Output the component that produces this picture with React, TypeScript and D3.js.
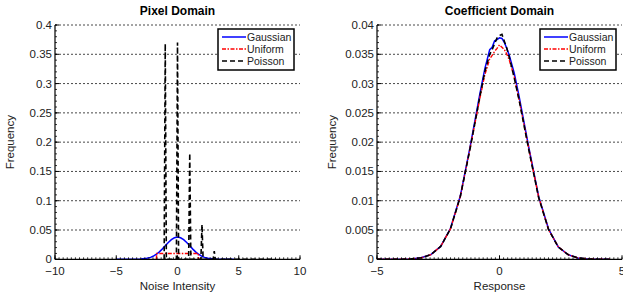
import React from "react";
import * as d3 from "d3";

// ---------- data ----------
const leftTitle = "Pixel Domain";
const rightTitle = "Coefficient Domain";
const seriesNames = ["Gaussian", "Uniform", "Poisson"];

const leftXTicks = [-10, -5, 0, 5, 10];
const leftYTicks = [0, 0.05, 0.1, 0.15, 0.2, 0.25, 0.3, 0.35, 0.4];
const rightXTicks = [-5, 0, 5];
const rightYTicks = [0, 0.005, 0.01, 0.015, 0.02, 0.025, 0.03, 0.035, 0.04];

// Pixel domain, Gaussian noise histogram
const pgX = [-5, -4, -3.5, -3, -2.5, -2.2, -2, -1.75, -1.5, -1.25, -1, -0.75, -0.5, -0.25, 0, 0.25, 0.5, 0.75, 1, 1.25, 1.5, 1.75, 2, 2.2, 2.5, 3, 3.5, 4, 4.6];
const pgY = [0, 0, 0.0001, 0.0004, 0.0017, 0.0033, 0.0051, 0.0082, 0.0123, 0.0174, 0.023, 0.0287, 0.0335, 0.0368, 0.038, 0.0368, 0.0335, 0.0287, 0.023, 0.0174, 0.0123, 0.0082, 0.0051, 0.0033, 0.0017, 0.0004, 0.0001, 0, 0];
// Pixel domain, Uniform noise histogram
const puX = [-1.72, -1.7, 1.7, 1.72];
const puY = [0, 0.01, 0.01, 0];
// Pixel domain, Poisson noise histogram (spikes at integers)
const ppK = [-1, 0, 1, 2, 3, 4, 5];
const ppP = [0.368, 0.37, 0.181, 0.059, 0.014, 0.003, 0.0005];
const ppBin = 0.09;
const ppEnd = 8;

// Coefficient domain
const cX = [-5, -4.5, -4, -3.6, -3.2, -2.8, -2.4, -2.0, -1.6, -1.2, -0.8, -0.6, -0.4, -0.3, -0.2, -0.1, 0, 0.1, 0.2, 0.3, 0.4, 0.6, 0.8, 1.2, 1.6, 2.0, 2.4, 2.8, 3.2, 3.6, 4, 4.5];
const cGauss = [0, 0, 0.00002, 0.00007, 0.00025, 0.0008, 0.0022, 0.0053, 0.0108, 0.0192, 0.0283, 0.0325, 0.0358, 0.0362, 0.0373, 0.0375, 0.0378, 0.0377, 0.037, 0.036, 0.0348, 0.0318, 0.0278, 0.019, 0.0107, 0.0052, 0.0021, 0.0008, 0.00024, 0.00006, 0.00002, 0];
const cUnif = [0, 0, 0.00002, 0.00007, 0.00024, 0.0008, 0.0022, 0.0052, 0.0107, 0.019, 0.0275, 0.0315, 0.0342, 0.0348, 0.0355, 0.036, 0.0366, 0.0362, 0.0358, 0.035, 0.034, 0.0312, 0.0272, 0.0188, 0.0106, 0.0051, 0.0021, 0.0008, 0.00024, 0.00006, 0.00002, 0];
const cPois = [0, 0, 0.00002, 0.00007, 0.00025, 0.0008, 0.0022, 0.0052, 0.0107, 0.0189, 0.0278, 0.032, 0.035, 0.0358, 0.0368, 0.0378, 0.0382, 0.0384, 0.0372, 0.036, 0.0345, 0.031, 0.0272, 0.0186, 0.0105, 0.0051, 0.0021, 0.0008, 0.00024, 0.00006, 0.00002, 0];

// ---------- layout ----------
const W = 623, H = 294;
const TOP = 25, BOTTOM = 259.3;
const FONT = "'Liberation Sans', Arial, sans-serif";
const TXT = "#222";

type Series = { xs: number[]; ys: number[]; color: string; dash?: string; width: number };

function Panel(props: {
  x0: number; x1: number; xDomain: [number, number]; yDomain: [number, number];
  xTicks: number[]; yTicks: number[]; xMinorStep: number; yMinorStep: number;
  title: string; xLabel: string; series: Series[]; legendX: number;
}) {
  const { x0, x1, xDomain, yDomain, xTicks, yTicks, xMinorStep, yMinorStep, title, xLabel, series, legendX } = props;
  const x = d3.scaleLinear().domain(xDomain).range([x0, x1]);
  const y = d3.scaleLinear().domain(yDomain).range([BOTTOM, TOP]);
  const line = d3.line<[number, number]>().x((d) => x(d[0])).y((d) => y(d[1]));
  const xMinor = d3.range(xDomain[0], xDomain[1] + 1e-9, xMinorStep);
  const yMinor = d3.range(yDomain[0], yDomain[1] + 1e-12, yMinorStep);
  const fmt = (v: number) => (v < 0 ? "\u2212" + String(Math.abs(v)) : String(+v.toFixed(4)));
  const lw = 76, lh = 41, ly = 29;
  return (
    <g>
      {yTicks.filter((t) => t > 0).map((t) => (
        <line key={"g" + t} x1={x0} x2={x1} y1={y(t)} y2={y(t)} stroke="#333" strokeWidth={0.9} strokeDasharray="2,2" />
      ))}
      {series.map((s, i) => (
        <path key={"s" + i} d={line(s.xs.map((v, j) => [v, s.ys[j]] as [number, number])) || ""} fill="none"
          stroke={s.color} strokeWidth={s.width} strokeDasharray={s.dash} />
      ))}
      <line x1={x0} x2={x1} y1={BOTTOM} y2={BOTTOM} stroke="#000" strokeWidth={1.2} />
      <line x1={x0} x2={x0} y1={TOP} y2={BOTTOM} stroke="#000" strokeWidth={1.2} />
      {xMinor.map((t, i) => (
        <line key={"xm" + i} x1={x(t)} x2={x(t)} y1={BOTTOM} y2={BOTTOM - 2} stroke="#000" strokeWidth={0.8} />
      ))}
      {yMinor.map((t, i) => (
        <line key={"ym" + i} x1={x0} x2={x0 + 2} y1={y(t)} y2={y(t)} stroke="#000" strokeWidth={0.8} />
      ))}
      {xTicks.map((t) => (
        <g key={"xt" + t}>
          <line x1={x(t)} x2={x(t)} y1={BOTTOM} y2={BOTTOM - 4} stroke="#000" strokeWidth={1} />
          <text x={x(t)} y={BOTTOM + 16} textAnchor="middle" fontSize={11.5} fill={TXT} fontFamily={FONT}>{fmt(t)}</text>
        </g>
      ))}
      {yTicks.map((t) => (
        <g key={"yt" + t}>
          <line x1={x0} x2={x0 + 4} y1={y(t)} y2={y(t)} stroke="#000" strokeWidth={1} />
          <text x={x0 - 3} y={y(t) + 4} textAnchor="end" fontSize={11.5} fill={TXT} fontFamily={FONT}>{fmt(t)}</text>
        </g>
      ))}
      <text x={(x0 + x1) / 2} y={15} textAnchor="middle" fontSize={12} fontWeight="bold" fill="#000" fontFamily={FONT}>{title}</text>
      <text x={(x0 + x1) / 2} y={290} textAnchor="middle" fontSize={11.5} fill={TXT} fontFamily={FONT}>{xLabel}</text>
      <text transform={`translate(${x0 - 41},${(TOP + BOTTOM) / 2}) rotate(-90)`} textAnchor="middle" fontSize={11.5} fill={TXT} fontFamily={FONT}>Frequency</text>
      <rect x={legendX} y={ly} width={lw} height={lh} fill="#fff" stroke="#000" strokeWidth={1.5} />
      {series.map((s, i) => (
        <g key={"l" + i}>
          <line x1={legendX + 4} x2={legendX + 28} y1={ly + 8 + i * 12} y2={ly + 8 + i * 12}
            stroke={s.color} strokeWidth={1.5} strokeDasharray={s.dash} />
          <text x={legendX + 29} y={ly + 12 + i * 12} fontSize={10.5} fill={TXT} fontFamily={FONT}>{seriesNames[i]}</text>
        </g>
      ))}
    </g>
  );
}

export default function App() {
  const pPts: [number, number][] = [];
  ppK.forEach((k, i) => {
    pPts.push([k - ppBin, 0], [k, ppP[i]], [k + ppBin, 0]);
  });
  pPts.push([ppEnd, 0]);
  const leftSeries: Series[] = [
    { xs: pgX, ys: pgY, color: "#0000ff", width: 1.5 },
    { xs: puX, ys: puY, color: "#ff0000", width: 1.5, dash: "4,1.5,1.5,1.5" },
    { xs: pPts.map((p) => p[0]), ys: pPts.map((p) => p[1]), color: "#000", width: 1.6, dash: "5,3" },
  ];
  const rightSeries: Series[] = [
    { xs: cX, ys: cGauss, color: "#0000ff", width: 1.5 },
    { xs: cX, ys: cUnif, color: "#ff0000", width: 1.4, dash: "4,1.5,1.5,1.5" },
    { xs: cX, ys: cPois, color: "#000", width: 1.6, dash: "5,3" },
  ];
  return (
    <svg width={W} height={H} style={{ position: "absolute", left: 0, top: 0, background: "#fff" }}>
      <rect width={W} height={H} fill="#fff" />
      <Panel x0={55} x1={300} xDomain={[-10, 10]} yDomain={[0, 0.4]} xTicks={leftXTicks} yTicks={leftYTicks}
        xMinorStep={1 / 3} yMinorStep={0.01} title={leftTitle} xLabel="Noise Intensity" series={leftSeries} legendX={218} />
      <Panel x0={377} x1={622} xDomain={[-5, 5]} yDomain={[0, 0.04]} xTicks={rightXTicks} yTicks={rightYTicks}
        xMinorStep={1 / 6} yMinorStep={0.001} title={rightTitle} xLabel="Response" series={rightSeries} legendX={540} />
    </svg>
  );
}
